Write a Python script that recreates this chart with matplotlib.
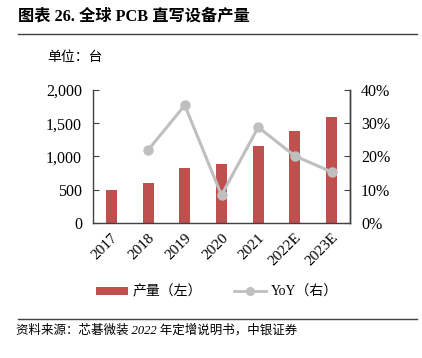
import matplotlib
matplotlib.use("Agg")
import matplotlib.pyplot as plt
from matplotlib.lines import Line2D
from matplotlib.patches import Patch
import numpy as np

plt.rcParams['font.family'] = ['Liberation Serif', 'Noto Sans CJK SC', 'DejaVu Sans']

categories = ['2017', '2018', '2019', '2020', '2021', '2022E', '2023E']
output_units = [500, 605, 822, 892, 1153, 1380, 1590]
yoy_pct = [np.nan, 21.9, 35.4, 8.3, 28.8, 20.1, 15.3]

bar_color = '#C0504D'
line_color = '#BFBFBF'
spine_color = '#404040'

fig = plt.figure(figsize=(4.22, 3.58), dpi=100)
ax = fig.add_axes([93/422, 1-222.7/358, (350-93)/422, (222.7-90)/358])
ax2 = ax.twinx()

x = np.arange(len(categories))
ax.bar(x, output_units, width=0.3, color=bar_color, zorder=2)
ax2.plot(x, yoy_pct, color=line_color, lw=2.2, marker='o', ms=6.5, zorder=3)

ax.set_xlim(-0.5, len(categories) - 0.5)
ax.set_ylim(0, 2000)
ax.set_yticks([0, 500, 1000, 1500, 2000])
ax.set_yticklabels(['0', '500', '1,000', '1,500', '2,000'])
ax2.set_ylim(0, 40)
ax2.set_yticks([0, 10, 20, 30, 40])
ax2.set_yticklabels(['0%', '10%', '20%', '30%', '40%'])

ax.set_xticks(x)
ax.set_xticklabels(categories, rotation=45, ha='right', rotation_mode='anchor')

for a in (ax, ax2):
    a.spines['top'].set_visible(False)
    for s in ('left', 'right', 'bottom'):
        a.spines[s].set_color(spine_color)
        a.spines[s].set_linewidth(1.0)
    a.tick_params(colors='black', labelsize=11.5)
ax.tick_params(axis='y', direction='in', length=4, color=spine_color, pad=8)
ax2.tick_params(axis='y', direction='in', length=4, color=spine_color, pad=8)
ax.tick_params(axis='x', length=0, pad=6, labelsize=11)
ax2.spines['left'].set_visible(False)
ax2.spines['bottom'].set_visible(False)
ax2.spines['right'].set_visible(True)

# Title and rules
fig.text(18/422, 1-17/358, '图表 26. 全球 PCB 直写设备产量', fontsize=11.7, fontweight='bold',
         va='center', ha='left')
fig.add_artist(Line2D([18/422, 417/422], [1-33.5/358, 1-33.5/358], color='#404040', lw=1.0))
fig.text(47/422, 1-57/358, '单位：台', fontsize=10, va='center', ha='left')

handles = [Patch(facecolor=bar_color, edgecolor='none'),
           Line2D([0], [0], color=line_color, lw=2, marker='o', ms=5.5)]
labels = ['产量（左）', 'YoY（右）']
fig.legend(handles, labels, loc='center', bbox_to_anchor=(217/422, 1-292/358), ncol=2,
           frameon=False, fontsize=10, handlelength=2.3, handleheight=0.5, columnspacing=2.3,
           handletextpad=0.35)

fig.add_artist(Line2D([18/422, 417/422], [1-319/358, 1-319/358], color='#404040', lw=1.0))
fig.text(16/422, 1-330/358, '资料来源：芯碁微装 2022 年定增说明书，中银证券', fontsize=9,
         style='italic', va='center', ha='left')

fig.savefig('out.png', dpi=100)
